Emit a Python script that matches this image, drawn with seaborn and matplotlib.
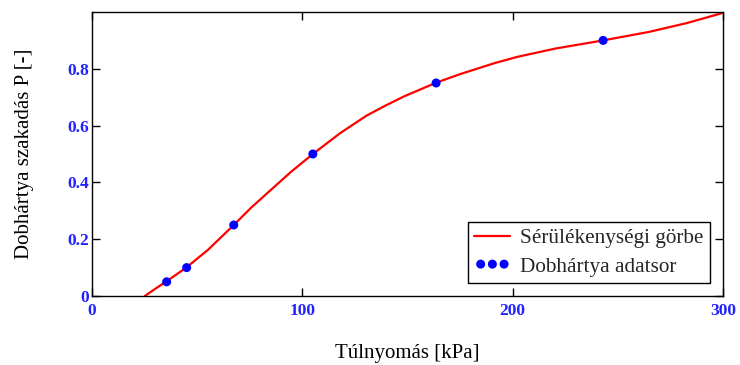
import matplotlib
matplotlib.use("Agg")
import matplotlib.pyplot as plt
import seaborn as sns
import pandas as pd

# Fragility curve
curve_x = [25.1, 30, 35.5, 45, 55.2, 67.4, 75.8, 85.7, 94.6, 105, 117.9, 130.5, 139.4, 148.4,
           163.6, 175.3, 191.4, 202.2, 220.1, 243, 264.9, 282.8, 300]
curve_p = [0.0, 0.025, 0.052, 0.101, 0.163, 0.25, 0.312, 0.378, 0.437, 0.5, 0.573, 0.635, 0.670,
           0.703, 0.751, 0.782, 0.820, 0.842, 0.871, 0.9, 0.930, 0.961, 0.997]

# Eardrum data set
data_x = [35.5, 45, 67.4, 105, 163.6, 243]
data_p = [0.05, 0.1, 0.25, 0.5, 0.75, 0.9]

x_ticks = [0, 100, 200, 300]
y_ticks = [0, 0.2, 0.4, 0.6, 0.8]

curve_label = "Sérülékenységi görbe"
data_label = "Dobhártya adatsor"
x_label = "Túlnyomás [kPa]"
y_label = "Dobhártya szakadás P [-]"

sns.set_style("white")
plt.rcParams["font.family"] = ["Liberation Serif", "DejaVu Serif"]

curve_df = pd.DataFrame({"x": curve_x, "p": curve_p})
data_df = pd.DataFrame({"x": data_x, "p": data_p})

fig = plt.figure(figsize=(7.4, 3.65), dpi=100)
ax = fig.add_axes([92 / 740, 69 / 365, 631 / 740, 284 / 365])

sns.lineplot(data=curve_df, x="x", y="p", ax=ax, color="#ff0000", linewidth=1.6,
             label=curve_label, sort=True)
sns.scatterplot(data=data_df, x="x", y="p", ax=ax, color="#0000ff", s=42,
                edgecolor="none", label=data_label, zorder=3)

ax.set_xlim(0, 300)
ax.set_ylim(0, 1.0)
ax.set_xticks(x_ticks)
ax.set_xticklabels([str(t) for t in x_ticks])
ax.set_yticks(y_ticks)
ax.set_yticklabels(["0"] + [f"{t:.1f}" for t in y_ticks[1:]])

tick_blue = "#2222ff"
ax.tick_params(axis="both", which="both", direction="in", length=6, width=1,
               color="black", top=True, right=True, bottom=True, left=True,
               labelsize=12.5, labelcolor=tick_blue)
ax.tick_params(axis="x", pad=5)
ax.tick_params(axis="y", pad=2)
for lbl in ax.get_xticklabels() + ax.get_yticklabels():
    lbl.set_fontweight("bold")

for sp in ax.spines.values():
    sp.set_visible(True)
    sp.set_color("black")
    sp.set_linewidth(1.0)

ax.set_xlabel(x_label, fontsize=15, color="black", labelpad=18)
ax.set_ylabel(y_label, fontsize=15, color="black", labelpad=24)

leg = ax.legend(loc="lower right", bbox_to_anchor=(0.979, 0.046), borderaxespad=0,
                fontsize=15.3, frameon=True, fancybox=False, framealpha=1,
                edgecolor="black", borderpad=0.3, handlelength=1.7,
                handletextpad=0.45, labelspacing=0.4, scatterpoints=3,
                scatteryoffsets=[0.5])
leg.get_frame().set_linewidth(1.0)

fig.savefig("out.png", dpi=100)
